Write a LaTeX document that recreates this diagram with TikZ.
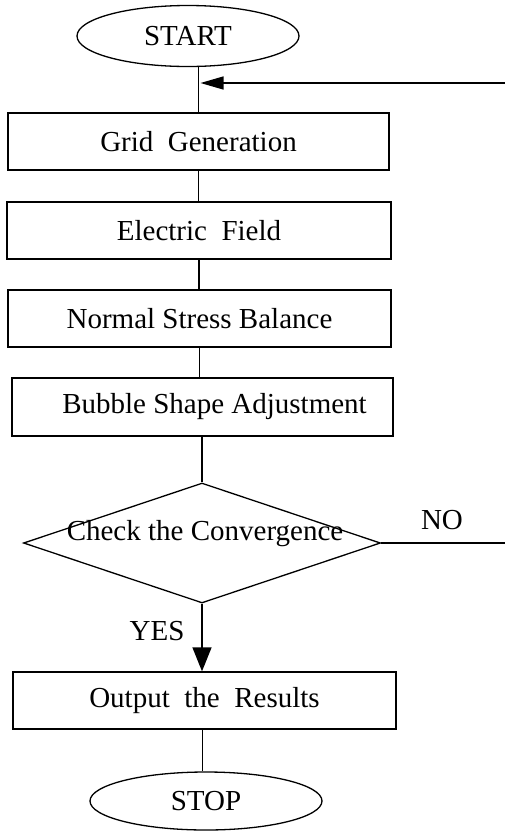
\documentclass[tikz,border=0pt]{standalone}
\usepackage{fontspec}
\setmainfont{Liberation Serif}
\usetikzlibrary{shapes.geometric,arrows.meta}
\begin{document}
\begin{tikzpicture}[x=1pt,y=-1pt,
  every node/.style={font=\fontsize{29pt}{34pt}\selectfont},
  conn/.style={line width=1.3pt},
  procbox/.style={draw, line width=1.3pt, rectangle, minimum height=57pt, inner sep=0pt},
  termbox/.style={draw, line width=1.3pt, ellipse, minimum width=222pt, minimum height=61pt, inner sep=0pt},
  decbox/.style={draw, line width=1.3pt, diamond, minimum width=357pt, minimum height=120pt, inner sep=0pt},
  lbl/.style={inner sep=0pt}
]
\useasboundingbox (0,0) rectangle (505,831);

\node[termbox] (start) at (188,36) {START};
\node[procbox, minimum width=381pt] (grid) at (198.5,141.5) {Grid\ \ Generation};
\node[procbox, minimum width=384pt] (elec) at (199,230.5) {Electric\ \ Field};
\node[procbox, minimum width=383pt] (norm) at (199.5,318.5) {Normal Stress Balance};
\node[procbox, minimum width=381pt, minimum height=58pt] (bub) at (202.5,407) {\hspace*{24pt}Bubble Shape Adjustment};
\node[decbox, label={[lbl, yshift=9pt, xshift=3pt]center:Check the Convergence}] (chk) at (202,543) {};
\node[procbox, minimum width=383pt] (out) at (204.5,700.5) {Output\ \ the\ \ Results};
\node[termbox, minimum width=232pt, minimum height=58pt] (stop) at (206,801) {STOP};

\node[lbl] (yes) at (157,631) {YES};
\node[lbl] (no) at (442,520) {NO};

\coordinate (loopin) at (505,83);
\coordinate (noend) at (505,543);

\draw[conn] (grid.north) -- (grid.north |- start.south);
\draw[conn, -{Triangle[length=23pt,width=13pt]}] (loopin) -- ([xshift=2pt]loopin -| grid.north);
\draw[conn] (grid.south) -- (grid.south |- elec.north);
\draw[conn] (elec.south) -- (elec.south |- norm.north);
\draw[conn] (norm.south) -- (norm.south |- bub.north);
\draw[conn] (chk.north) -- (chk.north |- bub.south);
\draw[conn] (chk.east) -- (noend);
\draw[conn, -{Triangle[length=24pt,width=19pt]}] (chk.south) -- (chk.south |- out.north);
\draw[conn] ([xshift=-2pt]out.south) -- ([xshift=-2pt]out.south |- stop.north);
\end{tikzpicture}
\end{document}
